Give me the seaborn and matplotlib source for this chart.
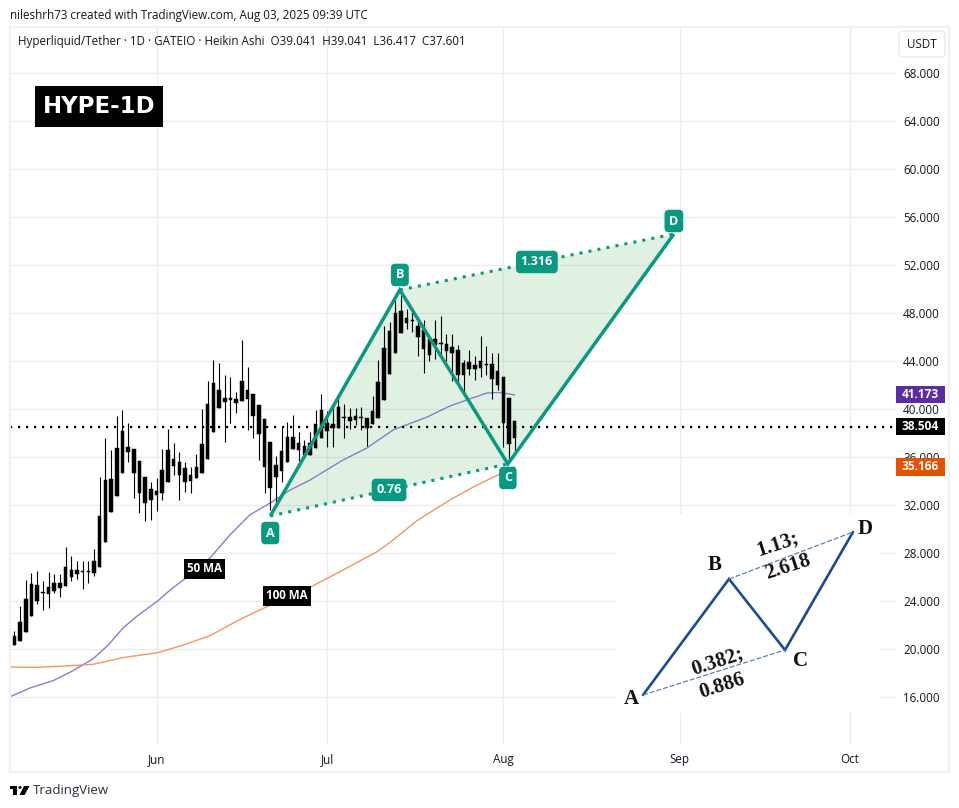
import matplotlib
matplotlib.use("Agg")
import matplotlib.pyplot as plt
from matplotlib.patches import Rectangle, FancyBboxPatch, Polygon, Circle
import seaborn as sns
import pandas as pd

# --- candles (day index 0 = 7 May 2025) ---
highs = [21.50,23.58,25.75,26.33,26.50,25.67,26.42,26.25,26.25,28.50,27.75,27.33,27.33,27.33,28.33,34.33,37.58,36.58,39.42,39.92,
         38.83,36.67,35.67,34.33,33.92,34.25,36.67,38.33,37.17,36.42,35.58,35.17,36.25,40.00,42.33,44.08,43.83,42.83,42.67,41.42,
         45.75,43.50,41.25,40.33,39.17,37.25,36.08,38.53,38.92,39.50,38.08,37.42,38.08,39.92,41.25,39.83,40.33,40.92,40.42,40.08,
         40.08,40.17,39.25,41.08,44.08,46.92,47.25,49.08,49.50,48.33,48.08,47.25,47.42,46.17,47.42,47.75,46.25,46.25,45.33,44.08,
         44.92,44.42,46.08,45.25,44.67,44.67,42.67,40.92,39.04]
body_tops = [21.08,22.25,24.17,25.42,25.33,24.75,25.17,25.50,25.50,26.83,26.58,26.58,26.50,26.50,27.33,31.08,34.08,34.17,36.75,38.17,
         36.83,36.67,35.67,34.33,33.33,33.17,34.92,36.58,35.83,35.58,35.08,34.50,35.17,37.08,40.42,42.17,41.58,40.92,40.92,40.83,
         42.33,41.58,41.25,40.33,39.17,37.25,35.33,36.50,37.67,37.67,37.17,36.92,37.17,38.75,39.92,38.83,38.75,40.17,39.33,39.33,
         39.42,39.33,39.25,39.83,42.25,45.08,46.50,48.00,48.17,47.58,47.42,46.92,46.58,45.83,45.83,45.50,45.42,45.17,44.92,43.83,
         43.92,43.67,44.00,43.75,43.75,43.17,42.67,40.92,39.04]
body_bottoms = [20.33,20.67,21.42,22.75,24.00,24.67,24.58,24.83,25.08,25.25,26.00,26.25,26.45,26.45,26.33,26.83,28.92,31.42,32.75,34.67,
         36.42,34.67,33.00,32.17,32.42,32.83,33.00,33.92,35.25,34.50,33.92,34.00,34.25,34.67,35.83,38.08,40.08,40.58,40.75,40.50,
         40.67,40.83,39.42,37.92,35.17,33.42,34.33,34.83,35.58,36.67,36.58,36.17,36.17,36.75,37.58,38.17,38.42,38.42,39.25,39.00,
         39.08,39.25,38.42,38.75,39.25,40.75,42.92,44.67,46.33,47.17,47.36,46.00,45.00,44.50,45.33,45.42,44.83,44.67,42.83,42.83,
         43.33,43.33,43.42,43.69,42.50,42.00,38.83,37.08,37.60]
lows = [20.33,20.67,21.42,22.75,23.75,23.25,23.42,24.67,24.33,25.25,25.67,25.83,25.00,25.50,26.08,26.83,28.92,31.42,32.75,34.67,
         35.58,32.58,31.33,30.67,30.75,31.50,32.42,33.92,34.50,32.42,33.08,33.00,34.25,34.67,35.83,38.08,40.08,37.25,38.83,39.67,
         40.67,38.25,37.58,35.75,33.00,31.58,31.86,33.95,35.58,36.67,35.67,36.17,36.17,36.75,37.58,36.83,36.83,38.42,37.58,38.33,
         38.67,38.25,36.92,38.75,39.25,40.75,42.92,44.67,46.33,46.67,46.42,44.42,43.00,44.00,44.17,44.50,44.00,42.33,42.00,41.17,
         42.83,42.42,42.69,42.83,40.83,41.58,36.86,35.61,36.42]

# --- moving averages ---
ma50_days = [-0.78,2.74,6.8,10.3,13.8,16.5,19.1,21.6,25.2,27.4,30.4,34.4,37.9,41.4,45,48.5,52,57.8,62,66.6,72.6,76.6,79.6,83.1,85.4,88]
ma50_vals = [16.02,16.75,17.36,18.19,19.17,20.33,21.75,22.75,24.0,24.92,26.0,27.58,29.5,31.17,32.17,33.25,34.08,35.75,36.75,38.25,39.33,40.25,40.75,41.33,41.38,41.17]
ma100_days = [-0.78,3.97,6.8,13.8,19.1,25.2,29.7,34.4,39.7,44.4,52,57.8,63.8,66.6,70.8,76.6,81.4,88]
ma100_vals = [18.5,18.47,18.53,18.72,19.28,19.69,20.33,21.11,22.47,23.53,25.14,26.58,28.11,29.08,30.69,32.42,33.67,35.17]

# --- harmonic pattern ---
pat_names = ["A", "B", "C", "D"]
pat_days = [45.0, 67.8, 86.8, 116.0]
pat_vals = [31.08, 49.92, 35.42, 54.58]
ratio_labels = ["0.76", "1.316"]

# --- axes labels ---
price_ticks = list(range(16, 72, 4))
month_days = [25, 55, 86, 117, 147]
month_labels = ["Jun", "Jul", "Aug", "Sep", "Oct"]
price_tags = [(41.173, "#5b2ca6"), (38.504, "#000000"), (35.166, "#e65100")]
last_price = 38.504

# --- schematic inset ---
sch_x = [27, 113, 169, 237]
sch_y = [18, 134, 63, 181]

W, H = 959, 808
sns.set_theme(style="white")
plt.rcParams["font.family"] = ["Open Sans", "DejaVu Sans"]
TXT = "#131722"
TEAL = "#089981"
GRID = "#ebecee"
FS = 8.35

fig = plt.figure(figsize=(W/100, H/100), dpi=100, facecolor="white")
def fx(x): return x / W
def fy(y): return 1 - y / H

ax = fig.add_axes([fx(10), fy(745), (895-10)/W, (745-27)/H])
ax.set_xlim(-0.78, 154.9)
ax.set_ylim(12, 71.83)
for s in ax.spines.values():
    s.set_visible(False)
ax.set_axisbelow(True)
ax.set_xticks(month_days, month_labels)
ax.set_yticks(price_ticks, [f"{p:.3f}" for p in price_ticks])
ax.yaxis.tick_right()
ax.tick_params(axis="both", length=0, labelsize=FS, labelcolor=TXT)
ax.tick_params(axis="y", pad=5.8)
ax.tick_params(axis="x", pad=6)
ax.grid(True, color=GRID, lw=1)

# outer frame
fig.add_artist(Rectangle((fx(9.5), fy(772)), 939/W, 745/H, fill=False, ec="#f0f1f4", lw=1.6, transform=fig.transFigure))

# moving averages
sns.lineplot(x=ma50_days, y=ma50_vals, ax=ax, color="#8f79cc", lw=1.0, sort=False, zorder=2.5, errorbar=None)
sns.lineplot(x=ma100_days, y=ma100_vals, ax=ax, color="#f59562", lw=1.0, sort=False, zorder=2.5, errorbar=None)
ax.set_xlabel(""); ax.set_ylabel("")

# candles
days = list(range(len(highs)))
ax.vlines(days, lows, highs, color="black", lw=0.8, zorder=3)
ax.bar(days, [t-b for t, b in zip(body_tops, body_bottoms)], bottom=body_bottoms, width=0.62,
       color="black", edgecolor="black", lw=0.35, zorder=3)

# last price line
ax.axhline(last_price, color="black", lw=1.6, ls=(0, (1, 2.6)), zorder=3.2)

# pattern
A, B, C, D = list(zip(pat_days, pat_vals))
ax.add_patch(Polygon([A, B, C], closed=True, fc="#5cb56a", alpha=0.19, ec="none", zorder=2))
ax.add_patch(Polygon([B, C, D], closed=True, fc="#5cb56a", alpha=0.19, ec="none", zorder=2))
ax.plot(pat_days, pat_vals, color=TEAL, lw=2.5, zorder=4, solid_capstyle="butt", solid_joinstyle="miter")
for P, Q in ((A, C), (B, D)):
    ax.plot([P[0], Q[0]], [P[1], Q[1]], color=TEAL, lw=2.2, ls=(0, (1, 2)), zorder=4)

def tag(x, y, s, dy_px=0, fs=9):
    ax.annotate(s, (x, y), xytext=(0, dy_px*0.72), textcoords="offset points", ha="center", va="center",
                color="white", fontsize=fs, fontweight="bold", zorder=6, family=["Open Sans"],
                bbox=dict(boxstyle="round,pad=0.38,rounding_size=0.35", fc=TEAL, ec="none"))
tag(A[0], A[1], pat_names[0], -17)
tag(B[0], B[1], pat_names[1], 15)
tag(C[0], C[1], pat_names[2], -14)
tag(D[0], D[1], pat_names[3], 13)
tag((A[0]+C[0])/2, (A[1]+C[1])/2, ratio_labels[0], 0)
tag((B[0]+D[0])*0.5, (B[1]+D[1])*0.5, ratio_labels[1], 0)

# MA tags
for x, y, s in ((33.4, 26.67, "50 MA"), (48.0, 24.42, "100 MA")):
    ax.text(x, y, s, ha="center", va="center", color="white", fontsize=8.4, fontweight="bold", zorder=5,
            bbox=dict(boxstyle="square,pad=0.28", fc="black", ec="none"))

# price tags
for val, col in price_tags:
    ax.add_patch(Rectangle((1 + 1/885, val - 0.71), 49/885, 1.42, transform=ax.get_yaxis_transform(),
                           fc=col, ec="none", clip_on=False, zorder=6))
    ax.text(1 + 25.5/885, val, f"{val:.3f}", transform=ax.get_yaxis_transform(), ha="center", va="center",
            color="white", fontsize=8.6, fontweight="bold", zorder=7, clip_on=False)

# header text
fig.text(fx(10), fy(15), "nileshrh73 created with TradingView.com, Aug 03, 2025 09:39 UTC", fontsize=FS, color=TXT, ha="left", va="center")
fig.text(fx(18), fy(42), "Hyperliquid/Tether \u00b7 1D \u00b7 GATEIO \u00b7 Heikin Ashi  O39.041  H39.041  L36.417  C37.601", fontsize=FS, color=TXT, ha="left", va="center")

# title block
fig.add_artist(Rectangle((fx(35), fy(127)), 128/W, 41/H, fc="black", ec="none", transform=fig.transFigure))
fig.text(fx(99), fy(106.5), "HYPE-1D", color="white", fontsize=16.5, fontweight="bold", ha="center", va="center", family=["DejaVu Sans"])

# currency button
fig.add_artist(FancyBboxPatch((fx(900), fy(56)), 44/W, 24/H, boxstyle="round,pad=0.001,rounding_size=0.004",
                              fc="white", ec="#e9ebef", lw=1, transform=fig.transFigure))
fig.text(fx(922), fy(44), "USDT", fontsize=FS, color=TXT, ha="center", va="center")

# TradingView mark
logo = [Rectangle((fx(10), fy(789)), 7/W, 3/H), Rectangle((fx(13), fy(795)), 4/W, 9/H),
        Polygon([(fx(24), fy(786)), (fx(29.5), fy(786)), (fx(24.5), fy(795)), (fx(19.5), fy(795))])]
for p in logo:
    p.set(fc="black", ec="none", transform=fig.transFigure)
    fig.add_artist(p)
fig.add_artist(Circle((fx(20), fy(787.5)), 1.6/W, fc="black", ec="none", transform=fig.transFigure))
fig.text(fx(33), fy(790.5), "TradingView", fontsize=9.5, color="#2a2e39", ha="left", va="center")

# schematic inset
ins = fig.add_axes([fx(616), fy(713), 264/W, 199/H], facecolor="white", zorder=5)
ins.set_xlim(0, 264); ins.set_ylim(0, 199); ins.axis("off")
ins.add_patch(Rectangle((0, 0), 264, 199, fc="white", ec="none"))
ins.plot(sch_x, sch_y, color="#1c4a95", lw=1.9, solid_joinstyle="miter")
ins.plot([sch_x[0], sch_x[2]], [sch_y[0], sch_y[2]], color="#5c82b0", lw=0.9, ls=(0, (4, 1.6)))
ins.plot([sch_x[1], sch_x[3]], [sch_y[1], sch_y[3]], color="#5c82b0", lw=0.9, ls=(0, (4, 1.6)))
SER = dict(family=["Liberation Serif"], fontweight="bold", color="#111111", ha="center", va="center")
for s, x, y in zip(pat_names, [15, 99, 185, 249], [14, 148, 52, 184]):
    ins.text(x, y, s, fontsize=15, **SER)
for s, x, y in (("1.13;", 162, 169), ("2.618", 172, 146), ("0.382;", 101, 52), ("0.886", 106, 27)):
    ins.text(x, y, s, fontsize=15, rotation=18, rotation_mode="anchor", **SER)

fig.savefig("out.png", dpi=100)
